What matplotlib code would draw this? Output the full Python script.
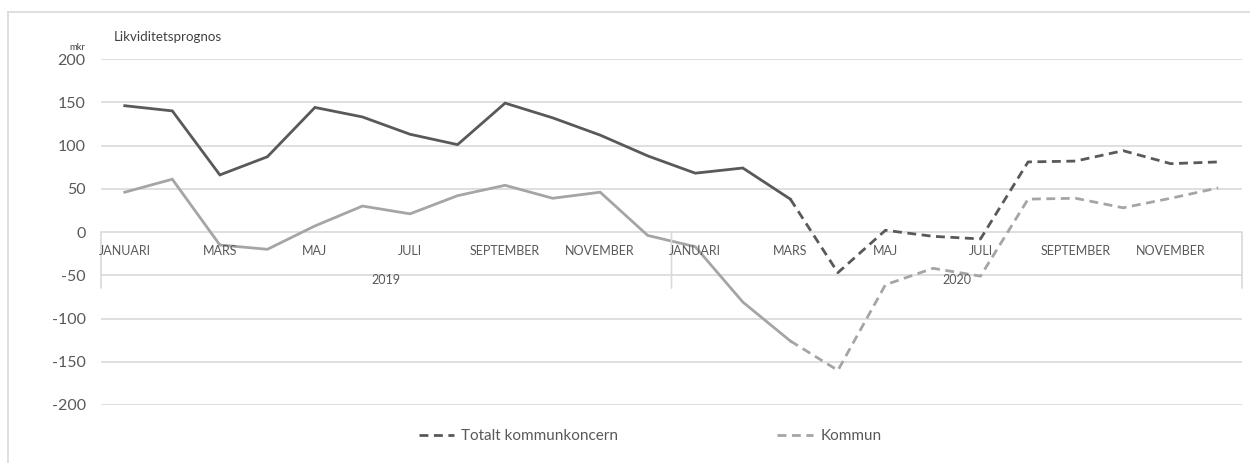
import numpy as np
import matplotlib
matplotlib.use("Agg")
import matplotlib.pyplot as plt
from matplotlib.lines import Line2D

plt.rcParams['font.family'] = ['Lato', 'DejaVu Sans']

months = ["JANUARI", "FEBRUARI", "MARS", "APRIL", "MAJ", "JUNI", "JULI",
          "AUGUSTI", "SEPTEMBER", "OKTOBER", "NOVEMBER", "DECEMBER"]
years = ["2019", "2020"]
totalt = [146, 140, 66, 87, 144, 133, 113, 101, 149, 132, 112, 88,
          68, 74, 38, -47, 2, -5, -8, 81, 82, 94, 79, 81]
kommun = [46, 61, -15, -20, 7, 30, 21, 42, 54, 39, 46, -4,
          -17, -81, -126, -160, -61, -42, -51, 38, 39, 28, 39, 51]
forecast_start = 14  # index of MARS 2020, dashed from here
series_names = ["Totalt kommunkoncern", "Kommun"]
yticks = [-200, -150, -100, -50, 0, 50, 100, 150, 200]

dark = "#595959"
light = "#A5A5A5"
grid = "#D9D9D9"
txt = "#595959"
dash = (0, (3.2, 2.0))

W, H = 1250, 463
fig = plt.figure(figsize=(W / 100, H / 100), dpi=100)
ax = fig.add_axes([101 / W, 1 - 405 / H, (1242 - 101) / W, 346 / H])

n = len(months) * len(years)
x = np.arange(n)
fs = forecast_start
for vals, col in ((kommun, light), (totalt, dark)):
    v = np.array(vals, dtype=float)
    ax.plot(x[:fs + 1], v[:fs + 1], color=col, lw=2.0, solid_joinstyle='miter', zorder=3)
    ax.plot(x[fs:], v[fs:], color=col, lw=2.0, ls=dash, zorder=3)

ax.set_xlim(-0.5, n - 0.5)
ax.set_ylim(-200, 200)
ax.set_yticks(yticks)
ax.set_yticklabels([str(t) for t in yticks])
ax.tick_params(axis='y', length=0, pad=11, labelsize=11.5, labelcolor=txt)
ax.set_xticks([])
for s in ax.spines.values():
    s.set_visible(False)
ax.grid(axis='y', color=grid, lw=1.2, zorder=0)
ax.set_axisbelow(True)

# category labels
labels = [m for _ in years for m in months]
for i, lab in enumerate(labels):
    if i % 2 == 0:
        ax.annotate(lab, (i, 0), xytext=(0, -13.7), textcoords='offset points',
                    ha='center', va='center', fontsize=9, color=txt, zorder=4)
for j, yr in enumerate(years):
    ax.annotate(yr, (j * len(months) + (len(months) - 1) / 2, 0), xytext=(0, -34.5),
                textcoords='offset points', ha='center', va='center',
                fontsize=9, color=txt, zorder=4)
for k in range(len(years) + 1):
    xs = k * len(months) - 0.5
    ax.annotate("", (xs, 0), xytext=(xs, -56 / 0.865), textcoords='data',
                arrowprops=dict(arrowstyle='-', color=grid, lw=1.2, shrinkA=0, shrinkB=0),
                annotation_clip=False)

# titles
fig.text(114 / W, 1 - 37 / H, "Likviditetsprognos", fontsize=9.6, color="#404040",
         ha='left', va='center')
fig.text(77 / W, 1 - 47 / H, "mkr", fontsize=6.8, color="#404040", ha='center', va='center')

# legend
handles = [Line2D([], [], color=dark, lw=2.0, ls=dash),
           Line2D([], [], color=light, lw=2.0, ls=dash)]
fig.legend(handles, series_names, loc='center', bbox_to_anchor=(650 / W, 1 - 436 / H),
           ncol=2, frameon=False, fontsize=11, handlelength=2.3, handletextpad=0.5,
           columnspacing=10.4, labelcolor=txt)

# outer frame (top and left edges)
fig.add_artist(Line2D([8 / W, 1], [1 - 12 / H, 1 - 12 / H], color=grid, lw=1.2))
fig.add_artist(Line2D([8 / W, 8 / W], [0, 1 - 12 / H], color=grid, lw=1.2))

fig.savefig("out.png", dpi=100)
